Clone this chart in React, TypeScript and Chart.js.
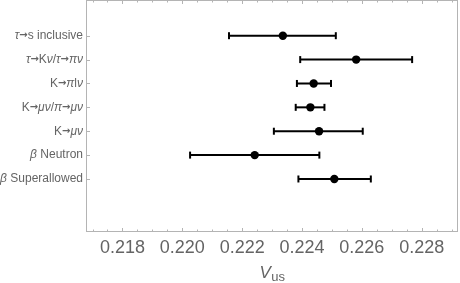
import React, { useEffect, useRef } from "react";
import { Chart, registerables } from "chart.js";

Chart.register(...registerables);

const categories = [
  "τ→s inclusive",
  "τ→Kν/τ→πν",
  "K→πlν",
  "K→μν/π→μν",
  "K→μν",
  "β Neutron",
  "β Superallowed",
];
const centralValues = [0.22336, 0.22581, 0.22439, 0.22428, 0.22457, 0.22242, 0.22508];
const lowerValues = [0.22156, 0.22394, 0.22383, 0.22379, 0.22306, 0.22026, 0.22388];
const upperValues = [0.22513, 0.22768, 0.22497, 0.22475, 0.22603, 0.22458, 0.2263];
const xTickValues = [0.218, 0.22, 0.222, 0.224, 0.226, 0.228];
const xMinorTicks = [
  0.217, 0.2175, 0.218, 0.2185, 0.219, 0.2195, 0.22, 0.2205, 0.221, 0.2215, 0.222, 0.2225,
  0.223, 0.2235, 0.224, 0.2245, 0.225, 0.2255, 0.226, 0.2265, 0.227, 0.2275, 0.228, 0.2285, 0.229,
];
const xMin = 0.216782;
const xMax = 0.229213;
const yMin = -0.495;
const yMax = 9.22;

const FONT = "'Liberation Sans', Arial, Helvetica, sans-serif";
const TEXT_COLOR = "#646464";
const FRAME_COLOR = "#b4b4b4";

const runFont = (kind: string) => {
  if (kind === "greek") return `italic 12px ${FONT}`;
  if (kind === "arrow") return `bold 10px 'DejaVu Sans', sans-serif`;
  return `12px ${FONT}`;
};
const charKind = (c: string) => (c === "→" ? "arrow" : /[\u0370-\u03ff]/.test(c) ? "greek" : "plain");

const framePlugin = {
  id: "frameAndLabels",
  afterDraw(chart: any) {
    const { ctx, chartArea: a, scales } = chart;
    const xs = scales.x;
    const ys = scales.y;
    ctx.save();
    ctx.strokeStyle = FRAME_COLOR;
    ctx.lineWidth = 1;
    ctx.strokeRect(a.left + 0.5, a.top + 0.5, a.right - a.left - 1, a.bottom - a.top - 1);
    ctx.beginPath();
    xMinorTicks.forEach((v) => {
      const px = Math.round(xs.getPixelForValue(v)) + 0.5;
      const major = xTickValues.some((t) => Math.abs(t - v) < 1e-7);
      const len = major ? 4 : 2.5;
      ctx.moveTo(px, a.bottom);
      ctx.lineTo(px, a.bottom - len);
      ctx.moveTo(px, a.top);
      ctx.lineTo(px, a.top + len);
    });
    categories.forEach((_, i) => {
      const py = Math.round(ys.getPixelForValue(i + 1)) + 0.5;
      ctx.moveTo(a.left, py);
      ctx.lineTo(a.left + 4, py);
    });
    ctx.stroke();

    // category labels with italic Greek letters
    ctx.fillStyle = TEXT_COLOR;
    ctx.textBaseline = "middle";
    ctx.textAlign = "left";
    categories.forEach((label, i) => {
      const runs: { t: string; k: string }[] = [];
      for (const ch of label) {
        const k = charKind(ch);
        const last = runs[runs.length - 1];
        if (last && last.k === k) last.t += ch;
        else runs.push({ t: ch, k });
      }
      let total = 0;
      const widths = runs.map((r) => {
        ctx.font = runFont(r.k);
        const w = ctx.measureText(r.t).width;
        total += w;
        return w;
      });
      let x = a.left - 3 - total;
      const py = ys.getPixelForValue(i + 1);
      runs.forEach((r, k) => {
        ctx.font = runFont(r.k);
        ctx.fillText(r.t, x, py);
        x += widths[k];
      });
    });

    // axis title V_us
    ctx.textBaseline = "alphabetic";
    ctx.font = `italic 17px ${FONT}`;
    const wV = ctx.measureText("V").width;
    ctx.font = `13px ${FONT}`;
    const wS = ctx.measureText("us").width;
    const cx = (a.left + a.right) / 2;
    const x0 = cx - (wV + wS) / 2;
    ctx.font = `italic 17px ${FONT}`;
    ctx.fillText("V", x0, 278);
    ctx.font = `13px ${FONT}`;
    ctx.fillText("us", x0 + wV + 0.5, 281);
    ctx.restore();
  },
};

export default function App() {
  const canvasRef = useRef<HTMLCanvasElement | null>(null);

  useEffect(() => {
    if (!canvasRef.current) return;
    const errorBars = categories.map((_, i) => ({
      type: "scatter" as const,
      data: [
        { x: lowerValues[i], y: i + 1 },
        { x: upperValues[i], y: i + 1 },
      ],
      showLine: true,
      borderColor: "#000",
      borderWidth: 2,
      pointStyle: "line",
      pointRotation: 90,
      pointRadius: 3.5,
      pointBorderWidth: 2,
      pointBorderColor: "#000",
      pointHoverRadius: 3.5,
    }));
    const points = {
      type: "scatter" as const,
      data: centralValues.map((v, i) => ({ x: v, y: i + 1 })),
      pointRadius: 4.2,
      pointBackgroundColor: "#000",
      pointBorderWidth: 0,
      showLine: false,
    };
    const chart = new Chart(canvasRef.current, {
      type: "scatter",
      data: { datasets: [...errorBars, points] as any },
      options: {
        animation: false,
        responsive: false,
        events: [],
        layout: { autoPadding: false, padding: { left: 86, top: 0, right: 2, bottom: 0 } },
        plugins: { legend: { display: false }, tooltip: { enabled: false } },
        scales: {
          x: {
            type: "linear",
            min: xMin,
            max: xMax,
            grid: { display: false, drawTicks: false },
            border: { display: false },
            afterBuildTicks: (s: any) => {
              s.ticks = xTickValues.map((v) => ({ value: v }));
            },
            afterFit: (s: any) => {
              s.height = 51;
            },
            ticks: {
              autoSkip: false,
              maxRotation: 0,
              padding: 5,
              color: TEXT_COLOR,
              font: { family: FONT, size: 18 },
              callback: (v: any) => Number(v).toFixed(3),
            },
          },
          y: {
            type: "linear",
            display: false,
            reverse: true,
            min: yMin,
            max: yMax,
          },
        },
      },
      plugins: [framePlugin],
    });
    return () => chart.destroy();
  }, []);

  return (
    <div style={{ position: "absolute", left: 0, top: 0, width: 460, height: 283, background: "#fff" }}>
      <canvas ref={canvasRef} width={460} height={283} style={{ display: "block" }} />
    </div>
  );
}
